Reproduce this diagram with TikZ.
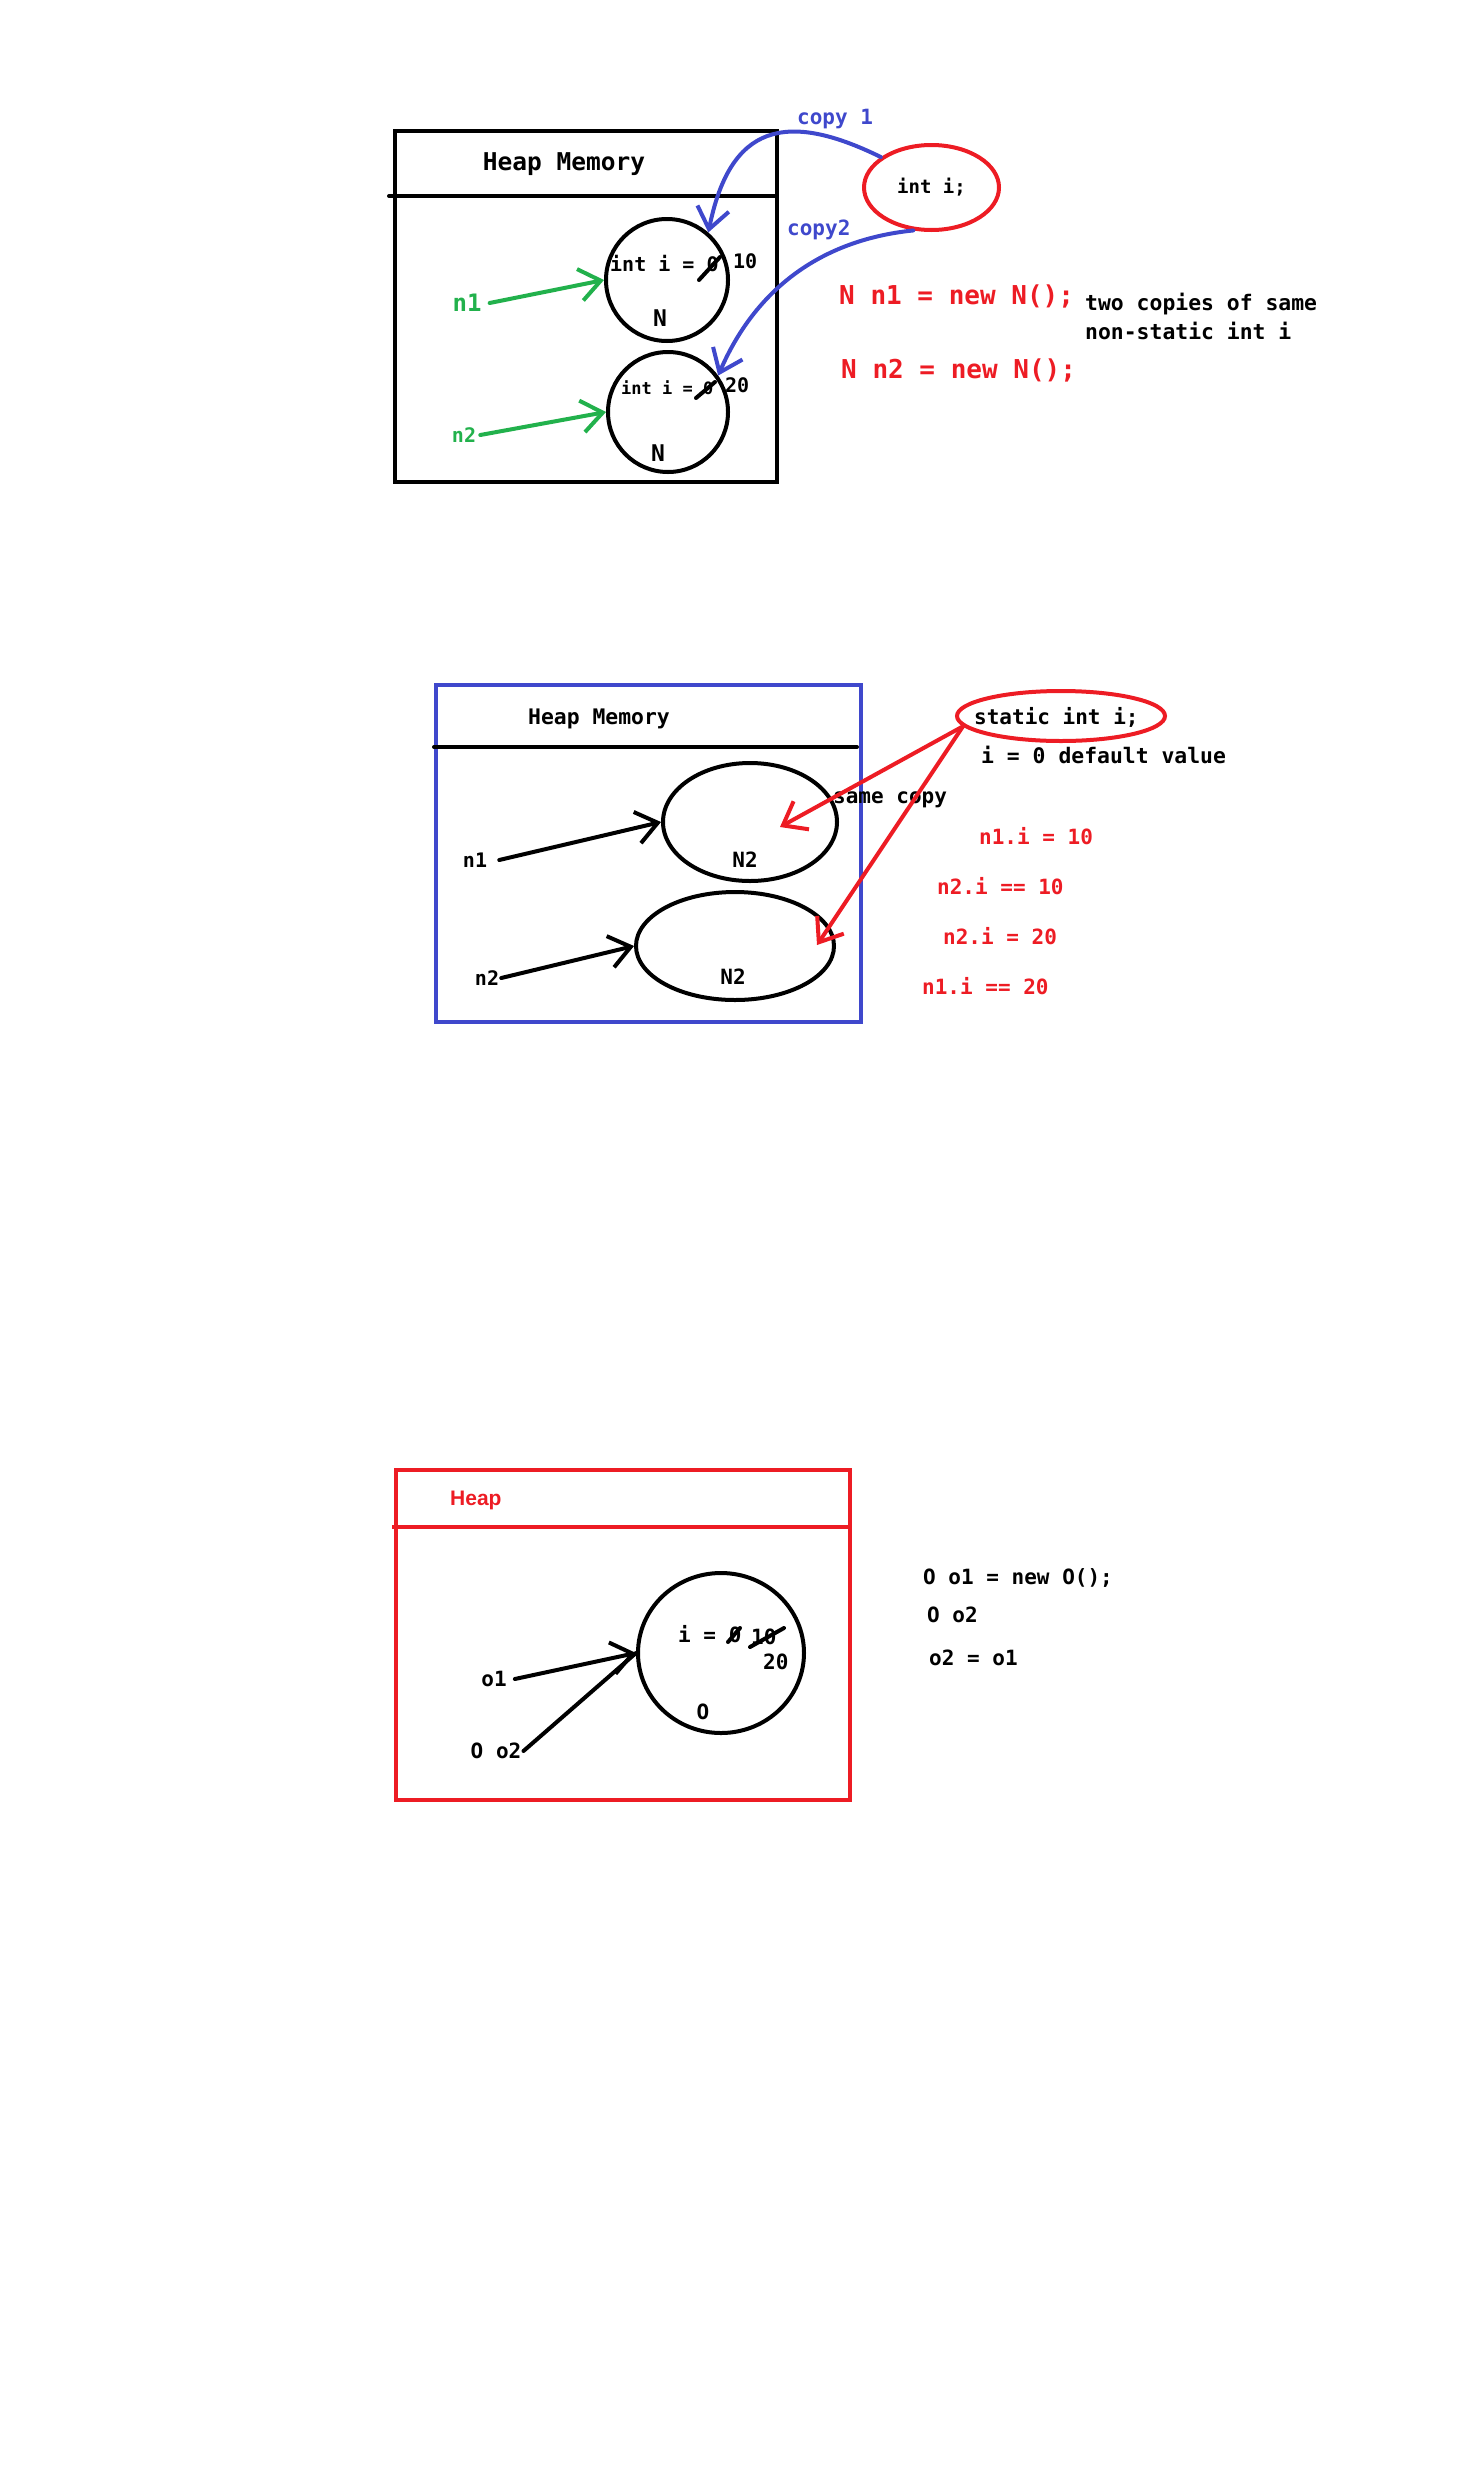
\documentclass[tikz,border=0pt]{standalone}
\usepackage{fontspec}
\setmainfont{DejaVu Sans Mono}
\newfontfamily\heapfont{Liberation Sans}
\usetikzlibrary{arrows.meta,shapes.geometric}
\definecolor{paintblue}{HTML}{3F48CC}
\definecolor{paintred}{HTML}{ED1C24}
\definecolor{paintgreen}{HTML}{22B14C}
\newcommand{\fsz}[1]{\bfseries\fontsize{#1}{#1}\selectfont}

\begin{document}
\begin{tikzpicture}[x=1pt, y=-1pt, line cap=round,
  txt/.style={inner sep=0pt, font=\fsz{#1}, text height=0.73*#1 pt, text depth=0pt},
  txt/.default=21,
  obj/.style={draw, line width=4pt, inner sep=0pt},
  ptr/.style={line width=4pt, -{Straight Barb[length=21pt,width=32pt]}},
  strike/.style={line width=4pt}]

\useasboundingbox (0,0) rectangle (1460,2492);

% Nodes: two objects, two copies of i
\node (heapA) [obj, minimum width=382pt, minimum height=351pt, anchor=north west] at (393,129) {};
\draw [line width=4pt] (389,196) -- (776,196);
\node (titleA) [txt=24.5] at (564,162) {Heap Memory};
\node (objA) [obj, circle, minimum size=122pt] at (667,280) {};
\node (valA) [txt=20, anchor=west] at (610,264) {int i = 0};
\node (newA) [txt=20, anchor=west] at (733,261) {10};
\node (clsA) [txt=23] at (660,318) {N};
\node (objB) [obj, circle, minimum size=120pt] at (668,412) {};
\node (valB) [txt=17, anchor=west] at (621,388) {int i = 0};
\node (newB) [txt=20, anchor=west] at (725,385) {20};
\node (clsB) [txt=23] at (658,453) {N};
\node (refA) [txt=24, text=paintgreen] at (467,303) {n1};
\node (refB) [txt=20, text=paintgreen] at (464,435) {n2};
\node (intI) [obj, ellipse, draw=paintred, minimum width=135pt, minimum height=85pt, font=\fsz{19}] at (931.5,187.5) {int i;};
\node (copyA) [txt, text=paintblue, anchor=west] at (797,117) {copy 1};
\node (copyB) [txt, text=paintblue, anchor=west] at (787,228) {copy2};
\node (declA) [txt=26, text=paintred, anchor=west] at (839,295) {N n1 = new N();};
\node (declB) [txt=26, text=paintred, anchor=west] at (841,369) {N n2 = new N();};
\node (noteA) [txt=21.4, anchor=west] at (1085,303) {two copies of same};
\node (noteB) [txt=21.4, anchor=west] at (1085,332) {non-static int i};
\draw [strike] (699,280) -- (720,257);
\draw [strike] (696,398) -- (715,382);

% Arrows
\draw [ptr, paintgreen] ([xshift=8pt]refA.east) -- (objA.west);
\draw [ptr, paintgreen] ([xshift=4pt]refB.east) -- (objB.west);
\draw [ptr, paintblue] (intI.149) .. controls (785,110) and (730,125) .. (objA.49);
\draw [ptr, paintblue] (intI.247) .. controls (820,240) and (755,290) .. (objB.36);

% Nodes: one static i shared
\node (heapB) [obj, draw=paintblue, minimum width=425pt, minimum height=337pt, anchor=north west] at (434,683) {};
\draw [line width=4pt] (434,747) -- (857,747);
\node (titleB) [txt=21.4] at (599,717) {Heap Memory};
\node (objC) [obj, ellipse, minimum width=174pt, minimum height=118pt] at (750,822) {};
\node (clsC) [txt] at (745,860) {N2};
\node (objD) [obj, ellipse, minimum width=198pt, minimum height=108pt] at (735,946) {};
\node (clsD) [txt] at (733,977) {N2};
\node (refC) [txt=20] at (475,860) {n1};
\node (refD) [txt=20] at (487,978) {n2};
\node (statI) [obj, ellipse, draw=paintred, minimum width=208pt, minimum height=50pt] at (1061,716) {};
\node (statTxt) [txt, anchor=west] at (974,717) {static int i;};
\node (dflt) [txt=21.4, anchor=west] at (981,756) {i = 0 default value};
\node (same) [txt, anchor=west] at (833,796) {same copy};
\node (setA) [txt, text=paintred, anchor=west] at (979,837) {n1.i = 10};
\node (getA) [txt, text=paintred, anchor=west] at (937,887) {n2.i == 10};
\node (setB) [txt, text=paintred, anchor=west] at (943,937) {n2.i = 20};
\node (getB) [txt, text=paintred, anchor=west] at (922,987) {n1.i == 20};
\coordinate (hitC) at (780,827);
\coordinate (hitD) at (817,945);

% Arrows
\draw [ptr] ([xshift=12pt]refC.east) -- (objC.west);
\draw [ptr] ([xshift=2pt]refD.east) -- (objD.west);
\draw [ptr, paintred] (statI.186) -- (hitC);
\draw [ptr, paintred] (statI.186) -- (hitD);

% Nodes: two references, one object
\node (heapC) [obj, draw=paintred, minimum width=454pt, minimum height=330pt, anchor=north west] at (394,1468) {};
\draw [line width=4pt, paintred, line cap=rect] (394,1527) -- (850,1527);
\node (titleC) [inner sep=0pt, font={\heapfont\fsz{21}}, text height=15pt, text depth=0pt, text=paintred, anchor=west] at (450,1498) {Heap};
\node (objO) [obj, ellipse, minimum width=166pt, minimum height=160pt] at (721,1653) {};
\node (valO) [txt, anchor=west] at (678,1635) {i = 0};
\node (oldO) [txt, anchor=west] at (751,1637) {10};
\node (newO) [txt, anchor=west] at (763,1662) {20};
\node (clsO) [txt] at (703,1712) {O};
\node (refE) [txt] at (494,1679) {o1};
\node (refF) [txt] at (496,1751) {O o2};
\node (codeA) [txt, anchor=west] at (923,1577) {O o1 = new O();};
\node (codeB) [txt, anchor=west] at (927,1615) {O o2};
\node (codeC) [txt, anchor=west] at (929,1658) {o2 = o1};
\draw [strike] (728,1642) -- (740,1628);
\draw [strike] (750,1647) -- (784,1628);

% Arrows
\draw [ptr] ([xshift=8pt]refE.east) -- (objO.west);
\draw [line width=4pt] ([xshift=2pt]refF.east) -- (objO.west);

\end{tikzpicture}
\end{document}
